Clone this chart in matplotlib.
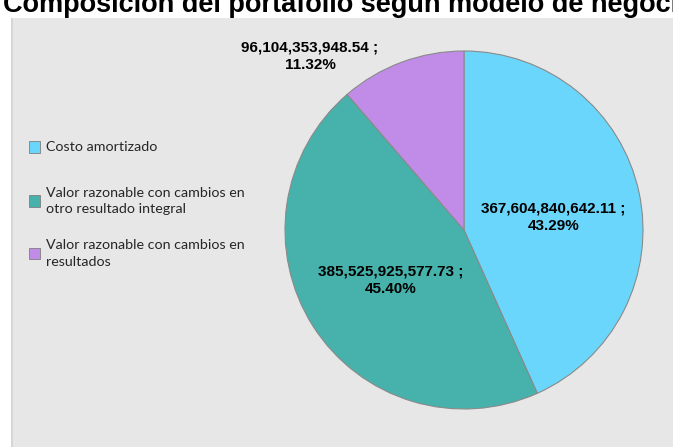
import numpy as np
import matplotlib.pyplot as plt
from matplotlib.patches import Rectangle

# datos
categorias = ["Costo amortizado",
              "Valor razonable con cambios en\notro resultado integral",
              "Valor razonable con cambios en\nresultados"]
valores = [367604840642.11, 385525925577.73, 96104353948.54]
colores = ["#6bd6fc", "#46b2ab", "#c08ce8"]
titulo = "Composición del portafolio según modelo de negocio"

# posiciones de las etiquetas (coordenadas del eje del pastel)
pos_etiquetas = [(0.50, 0.07), (-0.41, -0.28), (-0.86, 0.97)]

W, H = 673, 447
fig = plt.figure(figsize=(W / 100, H / 100), dpi=100)
fig.patch.set_facecolor("white")

# panel gris
fig.patches.append(Rectangle((11 / W, 0), 1 - 11 / W, 1 - 18 / H, transform=fig.transFigure,
                             facecolor="#e7e7e7", edgecolor="none", zorder=-2))
fig.patches.append(Rectangle((11 / W, 0), 2 / W, 1 - 18 / H, transform=fig.transFigure,
                             facecolor="#d6d6d6", edgecolor="none", zorder=-1))

fig.text(3 / W, 1 - 12 / H, titulo, fontsize=19.5, fontweight="bold",
         family="Liberation Sans", ha="left", va="baseline", color="black")

# pastel
cx, cy, r = 464, 230, 179
ax = fig.add_axes([(cx - r) / W, (H - cy - r) / H, 2 * r / W, 2 * r / H])
ax.set_zorder(2)
wedges, _ = ax.pie(valores, colors=colores, startangle=90, counterclock=False,
                   wedgeprops=dict(edgecolor="#8a8a8a", linewidth=0.8))
ax.set_xlim(-1, 1)
ax.set_ylim(-1, 1)
ax.set_aspect("equal")
ax.axis("off")

total = sum(valores)
for v, (x, y) in zip(valores, pos_etiquetas):
    txt = f"{v:,.2f} ;\n{v / total * 100:.2f}%"
    ax.text(x, y, txt, ha="center", va="center", fontsize=11, fontweight="bold",
            family="Liberation Sans", color="black", linespacing=1.3)

# leyenda manual
leg_y = [147, 201, 253.5]
for lab, c, y in zip(categorias, colores, leg_y):
    fig.patches.append(Rectangle((29 / W, 1 - (y + 5.5) / H), 11 / W, 11 / H,
                                 transform=fig.transFigure, facecolor=c,
                                 edgecolor="#7f7f7f", linewidth=0.6, zorder=2))
    fig.text(46 / W, 1 - y / H, lab, fontsize=10.3, family="Lato", color="#262626",
             ha="left", va="center", linespacing=1.45)

fig.savefig("out.png", dpi=100)
